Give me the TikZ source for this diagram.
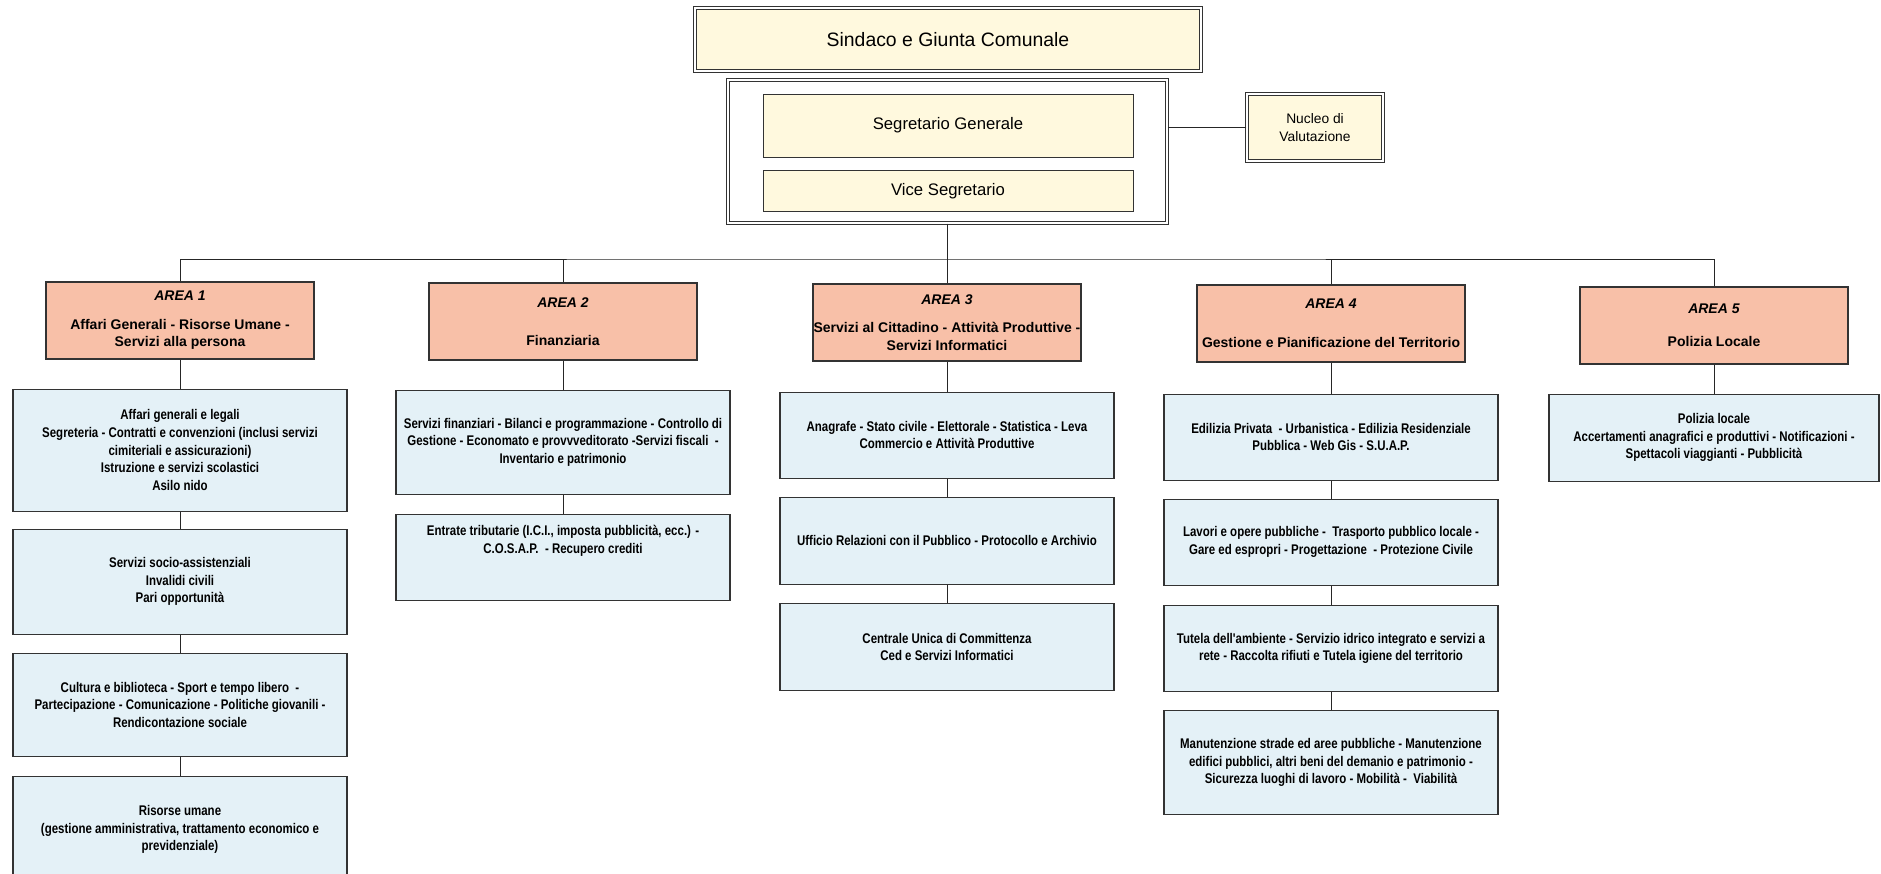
\documentclass[tikz,border=0pt]{standalone}
\usepackage{fontspec}
\setmainfont{Liberation Sans}
\newfontfamily\narrowfont[FakeStretch=0.82]{Liberation Sans}
\usepackage{tikz}
\usetikzlibrary{positioning}

\definecolor{cream}{RGB}{255,249,222}
\definecolor{salmon}{RGB}{248,192,168}
\definecolor{paleblue}{RGB}{228,241,247}

\begin{document}
\begin{tikzpicture}[x=1pt, y=-1pt,
        headbox/.style={rectangle, draw=black!80, fill=cream, line width=1.1pt, double=white, double distance=1.4pt, inner sep=0pt},
        secbox/.style={rectangle, draw=black!80, fill=cream, line width=0.9pt, minimum width=370pt, inner sep=0pt, font=\fontsize{16.7}{20}\selectfont},
        area/.style={rectangle, draw=black!80, fill=salmon, line width=1.1pt, minimum width=268pt, minimum height=77pt, inner sep=0pt, align=center, font=\bfseries\fontsize{14}{17.6}\selectfont},
        unit/.style={rectangle, draw=black!80, fill=paleblue, line width=1.1pt, minimum width=334pt, inner sep=0pt, align=center, font=\narrowfont\bfseries\fontsize{14}{17.6}\selectfont},
        link/.style={draw=black!85, line width=1pt}
      ]
        \useasboundingbox (0,0) rectangle (1881,873);
        \clip (0,0) rectangle (1881,873);

        % vertice
        \node[headbox, minimum width=506pt, minimum height=63pt, font=\fontsize{19.4}{23}\selectfont] (sindaco) at (948,39.5) {Sindaco e Giunta Comunale};
        \node[headbox, fill=white, minimum width=439pt, minimum height=143pt] (segreteria) at (947.5,151.5) {};
        \node[secbox, minimum height=63pt] (segretario) at (948,125.5) {Segretario Generale};
        \node[secbox, minimum height=41pt] (vice) [below=13pt of segretario] {Vice Segretario};
        \node[headbox, minimum width=136pt, minimum height=67pt, align=center, font=\fontsize{13.8}{17.5}\selectfont] (nucleo) at (1315,127.5) {Nucleo di\\Valutazione};

        % aree
        \node[area] (area1) at (180,320.5) {\textit{AREA 1}\\[11pt]Affari Generali - Risorse Umane -\\Servizi alla persona};
        \node[area] (area2) at (563,321.5) {\textit{AREA 2}\\[21pt]Finanziaria};
        \node[area] (area3) at (947,322.5) {\textit{AREA 3}\\[11pt]Servizi al Cittadino - Attività Produttive -\\Servizi Informatici};
        \node[area] (area4) at (1331,323.5) {\textit{AREA 4}\\[21pt]Gestione e Pianificazione del Territorio};
        \node[area] (area5) at (1714,325.5) {\textit{AREA 5}\\[15pt]Polizia Locale};

        % servizi area 1
        \node[unit, minimum height=122pt] (u11) [below=29pt of area1] {Affari generali e legali\\Segreteria - Contratti e convenzioni (inclusi servizi\\cimiteriali e assicurazioni)\\Istruzione e servizi scolastici\\Asilo nido};
        \node[unit, minimum height=105pt] (u12) [below=17pt of u11] {Servizi socio-assistenziali\\Invalidi civili\\Pari opportunità};
        \node[unit, minimum height=103pt] (u13) [below=18pt of u12] {Cultura e biblioteca - Sport e tempo libero~~-\\Partecipazione - Comunicazione - Politiche giovanili -\\Rendicontazione sociale};
        \node[unit, minimum height=106pt] (u14) [below=19pt of u13] {Risorse umane\\(gestione amministrativa, trattamento economico e\\previdenziale)};

        % servizi area 2
        \node[unit, minimum height=104pt] (u21) [below=29pt of area2] {Servizi finanziari - Bilanci e programmazione - Controllo di\\Gestione - Economato e provvveditorato -Servizi fiscali~~-\\Inventario e patrimonio};
        \node[unit, minimum height=86pt] (u22) [below=19pt of u21] {Entrate tributarie (I.C.I., imposta pubblicità, ecc.) -\\C.O.S.A.P.~~- Recupero crediti\\[18pt]~};

        % servizi area 3
        \node[unit, minimum height=86pt] (u31) [below=30pt of area3] {Anagrafe - Stato civile - Elettorale - Statistica - Leva\\Commercio e Attività Produttive};
        \node[unit, minimum height=87pt] (u32) [below=18pt of u31] {Ufficio Relazioni con il Pubblico - Protocollo e Archivio};
        \node[unit, minimum height=87pt] (u33) [below=18pt of u32] {Centrale Unica di Committenza\\Ced e Servizi Informatici};

        % servizi area 4
        \node[unit, minimum height=86pt] (u41) [below=31pt of area4] {Edilizia Privata~~- Urbanistica - Edilizia Residenziale\\Pubblica - Web Gis - S.U.A.P.};
        \node[unit, minimum height=86pt] (u42) [below=18pt of u41] {Lavori e opere pubbliche -~~Trasporto pubblico locale -\\Gare ed espropri - Progettazione~~- Protezione Civile};
        \node[unit, minimum height=86pt] (u43) [below=19pt of u42] {Tutela dell'ambiente - Servizio idrico integrato e servizi a\\rete - Raccolta rifiuti e Tutela igiene del territorio};
        \node[unit, minimum height=104pt] (u44) [below=18pt of u43] {Manutenzione strade ed aree pubbliche - Manutenzione\\edifici pubblici, altri beni del demanio e patrimonio -\\Sicurezza luoghi di lavoro - Mobilità -~~Viabilità};

        % servizi area 5
        \node[unit, minimum height=87pt, minimum width=330pt] (u51) [below=29pt of area5] {Polizia locale\\Accertamenti anagrafici e produttivi - Notificazioni -\\Spettacoli viaggianti - Pubblicità};

        % collegamenti
        \coordinate (bus) at (945,259);
        \draw[link] (segreteria.south) -- (segreteria.south |- bus);
        \draw[link] (area1.north) |- (bus) -| (area5.north);
        \foreach \a in {2,3,4}
            \draw[link] (area\a.north) -- (area\a.north |- bus);
        \draw[link] (nucleo.west) -- (nucleo.west -| segreteria.east);

        \foreach \p/\q in {area1/u11, u11/u12, u12/u13, u13/u14, area2/u21, u21/u22,
                           area3/u31, u31/u32, u32/u33, area4/u41, u41/u42, u42/u43, u43/u44, area5/u51}
            \draw[link] (\p.south) -- (\q.north);
      \end{tikzpicture}
\end{document}
